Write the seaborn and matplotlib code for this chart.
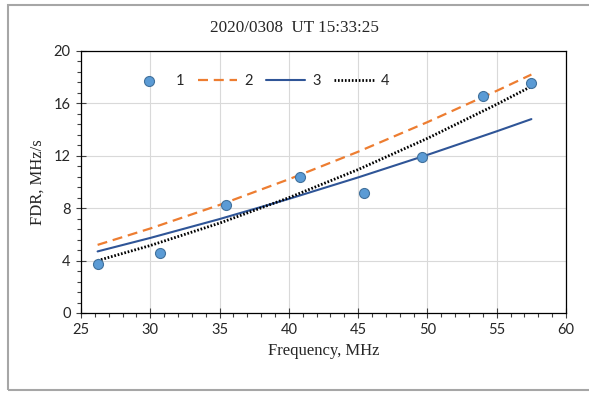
import matplotlib
matplotlib.use('Agg')
import matplotlib.pyplot as plt
from matplotlib.patches import Rectangle
from matplotlib.ticker import MultipleLocator
import seaborn as sns
import pandas as pd

# observed points (series 1)
obs_freq = [26.2, 30.7, 35.5, 40.8, 45.4, 49.6, 54.0, 57.5]
obs_fdr = [3.74, 4.58, 8.25, 10.4, 9.16, 11.9, 16.58, 17.54]

# model curves (series 2, 3, 4)
curve_freq = [26.2, 30, 35, 40, 45, 50, 55, 57.5]
curve2 = [5.2, 6.45, 8.25, 10.21, 12.31, 14.57, 16.96, 18.2]
curve3 = [4.7, 5.73, 7.17, 8.71, 10.35, 12.07, 13.87, 14.8]
curve4 = [4.0, 5.15, 6.86, 8.8, 10.95, 13.33, 15.93, 17.3]

title = '2020/0308  UT 15:33:25'

sns.set_style('white')
serif = ['Liberation Serif', 'DejaVu Serif']
sans = ['Lato', 'DejaVu Sans']

fig = plt.figure(figsize=(5.89, 3.94), dpi=100)
ax = fig.add_axes([0.1375, 0.2056, 0.8235, 0.665])

obs = pd.DataFrame({'f': obs_freq, 'fdr': obs_fdr})
df2 = pd.DataFrame({'f': curve_freq, 'fdr': curve2})
df3 = pd.DataFrame({'f': curve_freq, 'fdr': curve3})
df4 = pd.DataFrame({'f': curve_freq, 'fdr': curve4})

sns.lineplot(data=df2, x='f', y='fdr', color='#ED7D31', lw=1.6, ax=ax, label='2')
ax.lines[-1].set_dashes([4.5, 2.6])
sns.lineplot(data=df3, x='f', y='fdr', color='#2F5597', lw=1.5, ax=ax, label='3')
sns.lineplot(data=df4, x='f', y='fdr', color='black', lw=2.0, ax=ax, label='4')
ax.lines[-1].set_dashes([0.6, 0.65])
ax.lines[-1].set_dash_capstyle('butt')
sns.scatterplot(data=obs, x='f', y='fdr', color='#5B9BD5', edgecolor='#41719C',
                linewidth=0.8, s=52, ax=ax, label='1', zorder=5)

ax.set_xlim(25, 60)
ax.set_ylim(0, 20)
ax.xaxis.set_major_locator(MultipleLocator(5))
ax.xaxis.set_minor_locator(MultipleLocator(1))
ax.yaxis.set_major_locator(MultipleLocator(4))
ax.yaxis.set_minor_locator(MultipleLocator(0.8))
ax.grid(True, which='major', color='#d9d9d9', lw=0.8)
ax.set_axisbelow(True)
for s in ax.spines.values():
    s.set_color('black')
    s.set_linewidth(0.9)
ax.tick_params(which='major', direction='inout', length=7, width=0.8, color='#404040',
               labelsize=10.5, pad=4)
ax.tick_params(which='minor', direction='out', length=3, width=0.8, color='#404040')
ax.tick_params(axis='x', which='both', bottom=True)
ax.tick_params(axis='y', which='both', left=True)
for lab in ax.get_xticklabels() + ax.get_yticklabels():
    lab.set_family(sans)
    lab.set_color('#262626')

ax.set_xlabel('Frequency, MHz', family=serif, fontsize=12, labelpad=4)
ax.set_ylabel('FDR, MHz/s', family=serif, fontsize=12, labelpad=6)
fig.text(0.5, 0.93, title, ha='center', va='center', family=serif, fontsize=12.3)

handles, labels = ax.get_legend_handles_labels()
order = [labels.index(k) for k in ['1', '2', '3', '4']]
leg = ax.legend([handles[i] for i in order], ['1', '2', '3', '4'], ncol=4, frameon=False,
                loc='center', bbox_to_anchor=(0.368, 0.885), handlelength=2.7,
                columnspacing=0.9, handletextpad=0.5, prop={'family': sans, 'size': 10.5})

fig.patches.append(Rectangle((0.0136, 0.0102), 1.2, 0.977, transform=fig.transFigure,
                             fill=False, edgecolor='#a6a6a6', lw=1.5))

fig.savefig('out.png', dpi=100)
